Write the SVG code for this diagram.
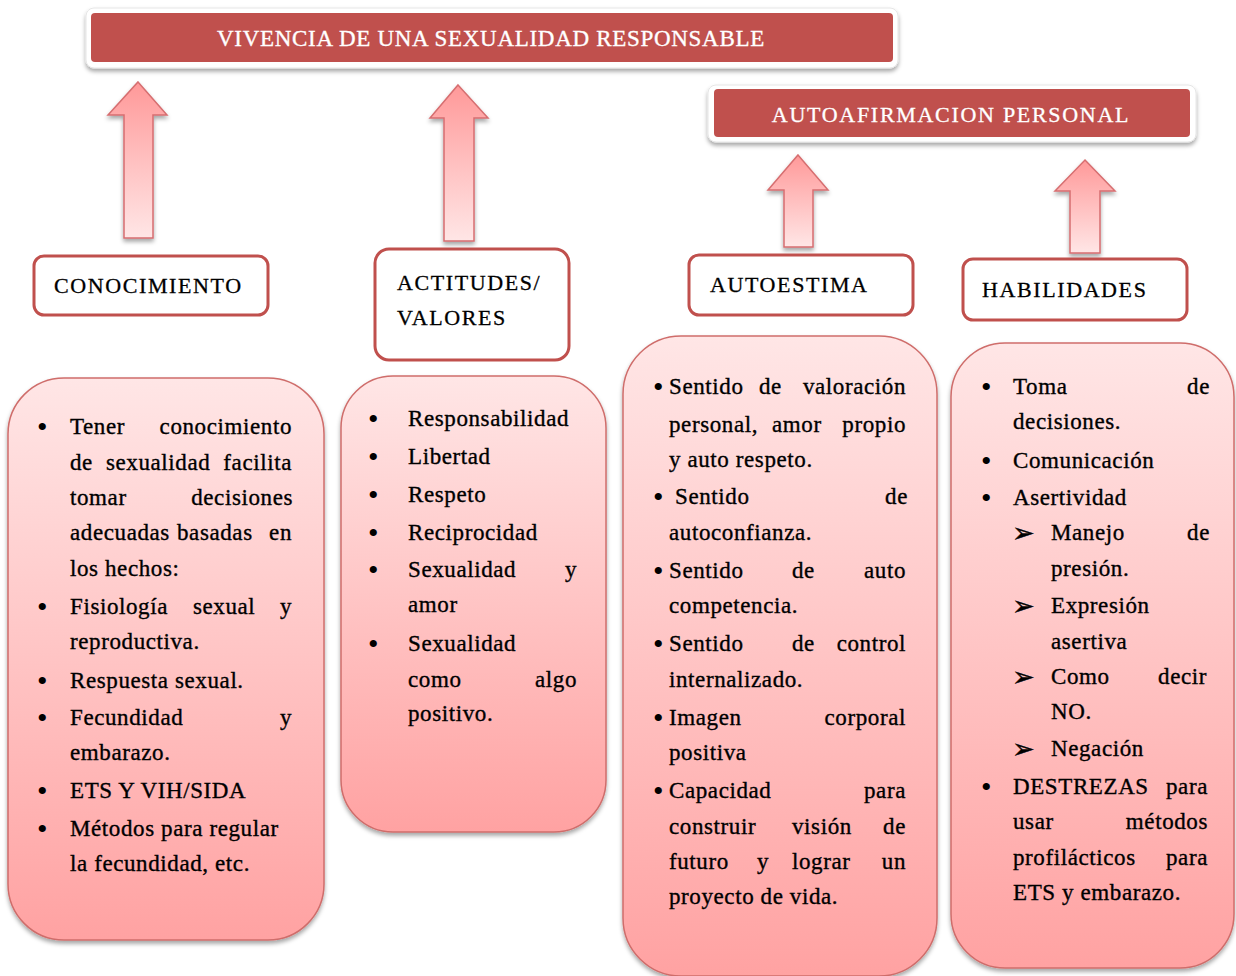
<svg xmlns="http://www.w3.org/2000/svg" width="1236" height="976" viewBox="0 0 1236 976">
<defs>
<linearGradient id="boxGrad" x1="0" y1="0" x2="0" y2="1">
<stop offset="0" stop-color="#FFE6E6"/>
<stop offset="1" stop-color="#FFA2A2"/>
</linearGradient>
<linearGradient id="arrGrad" x1="0" y1="0" x2="0" y2="1">
<stop offset="0" stop-color="#FF9999"/>
<stop offset="1" stop-color="#FFE6E6"/>
</linearGradient>
<filter id="sh" x="-10%" y="-10%" width="120%" height="125%">
<feDropShadow dx="0" dy="3" stdDeviation="2" flood-color="#000" flood-opacity="0.35"/>
</filter>
</defs>
<style>
.t{font-family:"Liberation Serif","Times New Roman",serif;font-size:23px;letter-spacing:0.6px;fill:#000;stroke:#000;stroke-width:0.35px}
.h{font-family:"Liberation Serif","Times New Roman",serif;font-size:22px;letter-spacing:1.6px;fill:#000;stroke:#000;stroke-width:0.3px}
.ttl{font-family:"Liberation Serif","Times New Roman",serif;font-size:23px;letter-spacing:0.7px;fill:#fff;stroke:#fff;stroke-width:0.35px}
.b{font-family:"Liberation Serif","Times New Roman",serif;font-size:30px;fill:#000}
.e{text-anchor:end}
.sym{font-family:"DejaVu Sans",sans-serif;font-size:27px;fill:#000;stroke:#000;stroke-width:0.4px}
.hdr{fill:#fff;stroke:#C0504D;stroke-width:3}
.box{fill:url(#boxGrad);stroke:#CF6D6B;stroke-width:1.5;filter:url(#sh)}
.arr{fill:url(#arrGrad);stroke:#D66E70;stroke-width:1.5;filter:url(#sh)}
.frame{fill:#fff;stroke:#E6E6E6;stroke-width:1;filter:url(#sh)}
.bar{fill:#C0504D}
</style>
<rect width="1236" height="976" fill="#fff"/>

<g id="title">
<rect class="frame" x="86" y="8" width="812" height="60" rx="8"/>
<rect class="bar" x="91" y="13" width="802" height="49" rx="4"/>
<text class="ttl" x="491" y="46" text-anchor="middle">VIVENCIA DE UNA SEXUALIDAD RESPONSABLE</text>
</g>

<g id="autoafirmacion">
<rect class="frame" x="708" y="85" width="488" height="57" rx="8"/>
<rect class="bar" x="714" y="89" width="476" height="48" rx="4"/>
<text class="h" x="951" y="122" text-anchor="middle" style="fill:#fff;stroke:#fff;letter-spacing:1.7px">AUTOAFIRMACION PERSONAL</text>
</g>

<g id="connectors">
<path class="arr" d="M138,82 L167,115 L153,115 L153,238 L124,238 L124,115 L108,115 Z"/>
<path class="arr" d="M458,85 L488,118 L474,118 L474,241 L444,241 L444,118 L430,118 Z"/>
<path class="arr" d="M798,155 L828,190 L813,190 L813,247 L784,247 L784,190 L768,190 Z"/>
<path class="arr" d="M1085,160 L1115,191 L1100,191 L1100,253 L1070,253 L1070,191 L1055,191 Z"/>
</g>

<g id="conocimiento">
<rect class="hdr" x="34" y="256" width="234" height="59" rx="10"/>
<text class="h" x="54" y="293">CONOCIMIENTO</text>
</g>
<g id="actitudes">
<rect class="hdr" x="375" y="249" width="194" height="111" rx="14"/>
<text class="h" x="397" y="290">ACTITUDES/</text>
<text class="h" x="397" y="325">VALORES</text>
</g>
<g id="autoestima">
<rect class="hdr" x="689" y="255" width="224" height="60" rx="10"/>
<text class="h" x="710" y="292">AUTOESTIMA</text>
</g>
<g id="habilidades">
<rect class="hdr" x="963" y="259" width="224" height="61" rx="10"/>
<text class="h" x="982" y="297">HABILIDADES</text>
</g>

<g id="box-conocimiento">
<rect class="box" x="8" y="378" width="316" height="562" rx="56"/>
<text class="b" x="37" y="437">•</text>
<text class="t" x="70" y="434">Tener</text><text class="t e" x="292" y="434">conocimiento</text>
<text class="t" x="70" y="470">de</text><text class="t" x="106" y="470">sexualidad</text><text class="t e" x="292" y="470">facilita</text>
<text class="t" x="70" y="505">tomar</text><text class="t e" x="293" y="505">decisiones</text>
<text class="t" x="70" y="540">adecuadas</text><text class="t" x="177" y="540">basadas</text><text class="t e" x="292" y="540">en</text>
<text class="t" x="70" y="576">los hechos:</text>
<text class="b" x="37" y="617">•</text>
<text class="t" x="70" y="614">Fisiología</text><text class="t" x="193" y="614">sexual</text><text class="t e" x="292" y="614">y</text>
<text class="t" x="70" y="649">reproductiva.</text>
<text class="b" x="37" y="691">•</text>
<text class="t" x="70" y="688">Respuesta sexual.</text>
<text class="b" x="37" y="728">•</text>
<text class="t" x="70" y="725">Fecundidad</text><text class="t e" x="292" y="725">y</text>
<text class="t" x="70" y="760">embarazo.</text>
<text class="b" x="37" y="801">•</text>
<text class="t" x="70" y="798">ETS Y VIH/SIDA</text>
<text class="b" x="37" y="839">•</text>
<text class="t" x="70" y="836">Métodos para regular</text>
<text class="t" x="70" y="871">la fecundidad, etc.</text>
</g>

<g id="box-actitudes">
<rect class="box" x="341" y="376" width="265" height="456" rx="52"/>
<text class="b" x="368" y="429">•</text><text class="t" x="408" y="426">Responsabilidad</text>
<text class="b" x="368" y="467">•</text><text class="t" x="408" y="464">Libertad</text>
<text class="b" x="368" y="505">•</text><text class="t" x="408" y="502">Respeto</text>
<text class="b" x="368" y="543">•</text><text class="t" x="408" y="540">Reciprocidad</text>
<text class="b" x="368" y="580">•</text><text class="t" x="408" y="577">Sexualidad</text><text class="t e" x="577" y="577">y</text>
<text class="t" x="408" y="612">amor</text>
<text class="b" x="368" y="654">•</text><text class="t" x="408" y="651">Sexualidad</text>
<text class="t" x="408" y="687">como</text><text class="t e" x="577" y="687">algo</text>
<text class="t" x="408" y="721">positivo.</text>
</g>

<g id="box-autoestima">
<rect class="box" x="623" y="336" width="314" height="640" rx="58"/>
<text class="b" x="653" y="397">•</text>
<text class="t" x="669" y="394">Sentido</text><text class="t" x="759" y="394">de</text><text class="t e" x="906" y="394">valoración</text>
<text class="t" x="669" y="432">personal,</text><text class="t" x="772" y="432">amor</text><text class="t e" x="906" y="432">propio</text>
<text class="t" x="669" y="467">y auto respeto.</text>
<text class="b" x="653" y="507">•</text>
<text class="t" x="675" y="504">Sentido</text><text class="t e" x="908" y="504">de</text>
<text class="t" x="669" y="540">autoconfianza.</text>
<text class="b" x="653" y="581">•</text>
<text class="t" x="669" y="578">Sentido</text><text class="t" x="792" y="578">de</text><text class="t e" x="906" y="578">auto</text>
<text class="t" x="669" y="613">competencia.</text>
<text class="b" x="653" y="654">•</text>
<text class="t" x="669" y="651">Sentido</text><text class="t" x="792" y="651">de</text><text class="t e" x="906" y="651">control</text>
<text class="t" x="669" y="687">internalizado.</text>
<text class="b" x="653" y="728">•</text>
<text class="t" x="669" y="725">Imagen</text><text class="t e" x="906" y="725">corporal</text>
<text class="t" x="669" y="760">positiva</text>
<text class="b" x="653" y="801">•</text>
<text class="t" x="669" y="798">Capacidad</text><text class="t e" x="906" y="798">para</text>
<text class="t" x="669" y="834">construir</text><text class="t" x="792" y="834">visión</text><text class="t e" x="906" y="834">de</text>
<text class="t" x="669" y="869">futuro</text><text class="t" x="757" y="869">y</text><text class="t" x="792" y="869">lograr</text><text class="t e" x="906" y="869">un</text>
<text class="t" x="669" y="904">proyecto de vida.</text>
</g>

<g id="box-habilidades">
<rect class="box" x="951" y="343" width="283" height="625" rx="54"/>
<text class="b" x="981" y="397">•</text>
<text class="t" x="1013" y="394">Toma</text><text class="t e" x="1210" y="394">de</text>
<text class="t" x="1013" y="429">decisiones.</text>
<text class="b" x="981" y="471">•</text>
<text class="t" x="1013" y="468">Comunicación</text>
<text class="b" x="981" y="508">•</text>
<text class="t" x="1013" y="505">Asertividad</text>
<text class="sym" x="1012" y="542">➢</text>
<text class="t" x="1051" y="540">Manejo</text><text class="t e" x="1210" y="540">de</text>
<text class="t" x="1051" y="576">presión.</text>
<text class="sym" x="1012" y="615">➢</text>
<text class="t" x="1051" y="613">Expresión</text>
<text class="t" x="1051" y="649">asertiva</text>
<text class="sym" x="1012" y="686">➢</text>
<text class="t" x="1051" y="684">Como</text><text class="t e" x="1207" y="684">decir</text>
<text class="t" x="1051" y="719">NO.</text>
<text class="sym" x="1012" y="758">➢</text>
<text class="t" x="1051" y="756">Negación</text>
<text class="b" x="981" y="797">•</text>
<text class="t" x="1013" y="794">DESTREZAS</text><text class="t e" x="1208" y="794">para</text>
<text class="t" x="1013" y="829">usar</text><text class="t e" x="1208" y="829">métodos</text>
<text class="t" x="1013" y="865">profilácticos</text><text class="t e" x="1208" y="865">para</text>
<text class="t" x="1013" y="900">ETS y embarazo.</text>
</g>
</svg>
